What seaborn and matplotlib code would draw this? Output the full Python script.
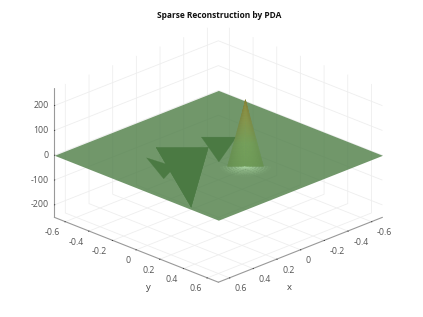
import numpy as np
import matplotlib
matplotlib.use('Agg')
import matplotlib.pyplot as plt
import seaborn as sns

sns.set_theme(style='white')
plt.rcParams['font.family'] = ['Open Sans', 'DejaVu Sans']
plt.rcParams['axes.unicode_minus'] = False

# axis setup
lim_xy = 0.693
lim_z = [-250, 270]
xy_ticks = [-0.6, -0.4, -0.2, 0, 0.2, 0.4, 0.6]
xy_labels = ['-0.6', '-0.4', '-0.2', '0', '0.2', '0.4', '0.6']
z_ticks = [-200, -100, 0, 100, 200]
z_labels = ['-200', '-100', '0', '100', '200']

# negative spikes: rim nodes on the plane, last node is the tip
small_x = [0.327, 0.304, 0.24]
small_y = [-0.284, -0.069, -0.226]
small_z = [0, 0, -90]
big_x = [0.178, 0.24, -0.043, 0.065]
big_y = [-0.348, -0.133, -0.128, -0.165]
big_z = [0, 0, 0, -228]
back_x = [-0.126, -0.274, -0.17]
back_y = [-0.274, -0.126, -0.17]
back_z = [0, 0, -89]

# positive spike
peak_x = 0.003
peak_y = 0.232
peak_halfwidth = 0.076
peak_z = 267
glow_radius = 0.15

plane_color = (0.30, 0.49, 0.27)
spike_color = '#456f3c'
cone_colors = ['#6f9c58', '#75a05a', '#86974d', '#8f8c3c']
glow_color = '#a8d2a0'

fig = plt.figure(figsize=(4.23, 3.17), dpi=100)
ax = fig.add_axes([2.6 / 423, 1.4 / 317, 1, 1], projection='3d', computed_zorder=False)
ax.set_proj_type('ortho')
ax.view_init(elev=23.3, azim=45)
ax.set_box_aspect((232, 232, 140.5), zoom=1.093)
ax.set_xlim(-lim_xy, lim_xy)
ax.set_ylim(-lim_xy, lim_xy)
ax.set_zlim(*lim_z)

# spikes below the plane
for xs, ys, zs in [(small_x, small_y, small_z), (big_x, big_y, big_z), (back_x, back_y, back_z)]:
    ax.plot_trisurf(xs, ys, zs, color=spike_color, shade=False, linewidth=0.2,
                    edgecolor=spike_color, zorder=2)

# the flat surface
X, Y = np.meshgrid([-lim_xy, lim_xy], [-lim_xy, lim_xy])
plane = ax.plot_surface(X, Y, np.zeros((2, 2)), color=plane_color + (0.8,), shade=False,
                        linewidth=0, zorder=3)
plane.set_clip_on(False)

# light patch on the plane in front of the peak
T, R = np.meshgrid(np.linspace(-np.pi / 4, 3 * np.pi / 4, 41), np.linspace(0, 1, 9))
X = peak_x + glow_radius * R * np.cos(T)
Y = peak_y + glow_radius * R * np.sin(T)
faces = np.array(matplotlib.colors.to_rgba(glow_color)) * np.ones(R.shape + (4,))
faces[..., 3] = 0.2 * (1 - R)
ax.plot_surface(X, Y, np.zeros_like(X), facecolors=faces, shade=False, rstride=1, cstride=1,
                linewidth=0, antialiased=False, zorder=4)

# positive spike, one sheet from the left rim node over the tip to the right rim node
S, W = np.meshgrid(np.linspace(0, 1, 41), np.linspace(-1, 1, 21), indexing='ij')
X = peak_x - peak_halfwidth * (1 - S) * W
Y = peak_y + peak_halfwidth * (1 - S) * W
Z = peak_z * S
cmap = sns.blend_palette(cone_colors, as_cmap=True)
faces = cmap(S)
faces[..., :3] *= (1 - 0.08 * np.abs(W) ** 2)[..., None]
cone = ax.plot_surface(X, Y, Z, facecolors=faces, shade=False, rstride=1, cstride=1,
                       linewidth=0.3, zorder=5)
cone.set_edgecolor('face')

ax.set_xticks(xy_ticks)
ax.set_yticks(xy_ticks)
ax.set_zticks(z_ticks)
ax.set_xticklabels(xy_labels, ha='left')
ax.set_yticklabels(xy_labels, ha='right')
ax.set_zticklabels(z_labels, ha='right', va='center')
ax.zaxis.set_ticks_position('lower')
ax.tick_params(axis='x', labelsize=6.3, labelcolor='#555555', pad=-4)
ax.tick_params(axis='y', labelsize=6.3, labelcolor='#555555', pad=-4)
ax.tick_params(axis='z', labelsize=6.3, labelcolor='#555555', pad=-5.9)
for axis in (ax.xaxis, ax.yaxis, ax.zaxis):
    axis.set_pane_color((1, 1, 1, 0))
    axis.pane.set_edgecolor((1, 1, 1, 0))
    axis.line.set_color('#999999')
    axis.line.set_linewidth(0.8)
    axis._axinfo['grid']['color'] = '#eeeeee'
    axis._axinfo['grid']['linewidth'] = 0.6
    axis._axinfo['tick']['color'] = '#999999'
    axis._axinfo['tick']['linewidth'] = {True: 0.6, False: 0.4}
    axis._axinfo['tick']['inward_factor'] = 0.04
    axis._axinfo['tick']['outward_factor'] = 0.0
ax.zaxis._axinfo['tick']['inward_factor'] = 0.0
ax.zaxis._axinfo['tick']['outward_factor'] = 0.04

fig.text(219 / 423, 1 - 15.5 / 317, 'Sparse Reconstruction by PDA', fontsize=6.0,
         fontweight='bold', color='#111111', ha='center', va='center')
fig.text(289 / 423, 1 - 287 / 317, 'x', fontsize=6.8, color='#444444', ha='center', va='center')
fig.text(148 / 423, 1 - 287 / 317, 'y', fontsize=6.8, color='#444444', ha='center', va='center')

fig.savefig('out.png', dpi=100)
